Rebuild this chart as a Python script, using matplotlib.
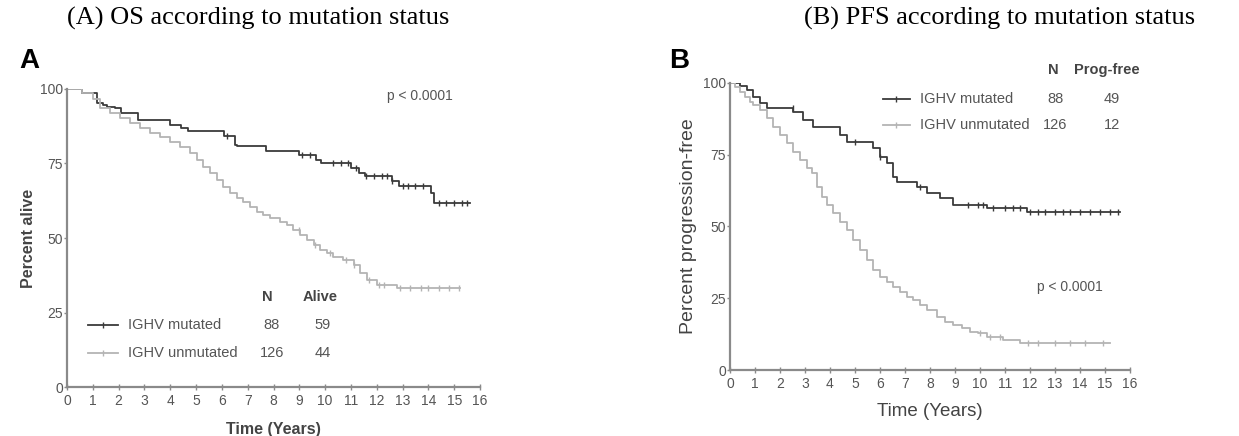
import numpy as np
import matplotlib.pyplot as plt

# Kaplan-Meier curves: (time in years, percent)
os_mut_t = [0, 0.6, 1.16, 1.4, 1.55, 1.85, 2.1, 2.75, 4.0, 4.4, 4.7, 6.1, 6.5, 6.6, 7.7, 9.0, 9.65, 9.85, 11.0, 11.3, 11.55, 12.6, 12.85, 14.1, 14.2, 15.6]
os_mut_s = [100, 98.8, 95.2, 94.6, 94.1, 93.6, 91.8, 89.6, 88.0, 86.9, 85.8, 84.1, 81.3, 80.8, 79.2, 78.0, 76.3, 75.2, 73.5, 71.8, 70.7, 69.0, 67.3, 65.1, 61.7, 61.7]
os_mut_cens = [6.2, 9.1, 9.4, 10.3, 10.6, 10.9, 11.2, 11.6, 11.9, 12.2, 12.4, 12.6, 13.0, 13.2, 13.5, 13.8, 14.4, 14.7, 15.0, 15.3, 15.5]

os_unm_t = [0, 0.6, 1.0, 1.28, 1.67, 2.05, 2.44, 2.83, 3.22, 3.6, 3.99, 4.38, 4.77, 5.03, 5.28, 5.54, 5.8, 6.06, 6.32, 6.58, 6.83, 7.09, 7.35, 7.61, 7.87, 8.26, 8.52, 8.77, 9.03, 9.29, 9.55, 9.81, 10.07, 10.32, 10.71, 11.1, 11.36, 11.62, 12.0, 12.78, 15.23]
os_unm_s = [100, 98.8, 96.5, 93.5, 91.8, 90.2, 88.5, 86.8, 85.1, 84.0, 82.3, 80.6, 78.4, 76.2, 73.9, 71.7, 69.5, 67.2, 65.0, 63.3, 62.2, 60.5, 58.8, 57.7, 56.6, 55.5, 54.4, 52.7, 51.0, 49.3, 47.7, 46.0, 44.9, 43.7, 42.6, 40.9, 38.1, 35.9, 34.2, 33.1, 33.1]
os_unm_cens = [9.0, 9.6, 10.2, 10.8, 11.1, 11.7, 12.1, 12.3, 12.9, 13.3, 13.7, 14.0, 14.4, 14.8, 15.2]

pfs_mut_t = [0, 0.4, 0.67, 0.93, 1.2, 1.47, 2.53, 2.93, 3.33, 4.4, 4.67, 5.73, 6.0, 6.27, 6.53, 6.67, 7.47, 7.87, 8.4, 8.93, 10.27, 11.87, 15.6]
pfs_mut_s = [100, 99.0, 97.6, 95.2, 92.9, 91.2, 90.0, 87.1, 84.8, 81.9, 79.6, 77.2, 74.3, 72.0, 67.3, 65.6, 63.9, 61.6, 59.8, 57.5, 56.4, 55.2, 55.2]
pfs_mut_cens = [2.5, 5.0, 6.0, 7.6, 9.5, 9.9, 10.1, 10.5, 11.0, 11.3, 11.6, 12.0, 12.3, 12.6, 13.0, 13.3, 13.6, 14.0, 14.4, 14.8, 15.2, 15.5]

pfs_unm_t = [0, 0.2, 0.4, 0.6, 0.8, 0.93, 1.2, 1.47, 1.73, 2.0, 2.27, 2.53, 2.8, 3.07, 3.27, 3.47, 3.67, 3.87, 4.13, 4.4, 4.67, 4.93, 5.2, 5.47, 5.73, 6.0, 6.27, 6.53, 6.8, 7.07, 7.33, 7.6, 7.87, 8.27, 8.6, 8.93, 9.27, 9.6, 9.93, 10.27, 10.93, 11.6, 15.2]
pfs_unm_s = [100, 98.7, 97.0, 95.2, 93.5, 92.3, 90.6, 87.7, 84.8, 81.9, 79.0, 76.1, 73.2, 70.3, 68.5, 63.9, 60.4, 57.5, 54.6, 51.7, 48.8, 45.3, 41.8, 38.3, 34.8, 32.5, 30.8, 29.0, 27.3, 25.5, 24.4, 22.6, 20.9, 18.6, 16.8, 15.7, 14.5, 13.4, 12.8, 11.6, 10.5, 9.3, 9.3]
pfs_unm_cens = [10.0, 10.4, 10.8, 11.9, 12.3, 13.0, 13.6, 14.2, 14.9]

groups = ["IGHV mutated", "IGHV unmutated"]
os_n = [88, 126]
os_alive = [59, 44]
pfs_n = [88, 126]
pfs_free = [49, 12]

DARK = "#3a3a3a"
LIGHT = "#b4b4b4"
AXC = "#8a8a8a"
TXT = "#555555"


def km(ax, t, s, cens, color):
    ax.step(t, s, where="post", color=color, lw=1.3)
    t = np.array(t)
    s = np.array(s)
    idx = np.searchsorted(t, cens, side="right") - 1
    ax.plot(cens, s[idx], ls="none", marker="|", ms=4, mew=1.0, color=color)


def style_axes(ax, fs):
    ax.set_xlim(0, 16)
    ax.set_ylim(0, 100)
    ax.set_xticks(range(0, 17))
    ax.set_yticks([0, 25, 50, 75, 100])
    for side in ["top", "right"]:
        ax.spines[side].set_visible(False)
    for side in ["left", "bottom"]:
        ax.spines[side].set_color(AXC)
        ax.spines[side].set_linewidth(1.6)
    ax.tick_params(axis="x", direction="inout", length=4, width=1, color=AXC,
                   labelsize=fs, labelcolor=TXT, pad=3)
    ax.tick_params(axis="y", direction="out", length=2, width=1, color=AXC,
                   labelsize=fs, labelcolor=TXT, pad=1)


W, H = 1239, 436
fig = plt.figure(figsize=(W / 100, H / 100), dpi=100)
plt.rcParams["font.family"] = ["Liberation Sans", "DejaVu Sans"]


def px_axes(x0, x1, ytop, ybot):
    return fig.add_axes([x0 / W, (H - ybot) / H, (x1 - x0) / W, (ybot - ytop) / H])


# titles
fig.text(258 / W, 1 - 18 / H, "(A) OS according to mutation status", ha="center", va="center",
         fontsize=19, family="Liberation Serif")
fig.text(1000 / W, 1 - 18 / H, "(B) PFS according to mutation status", ha="center", va="center",
         fontsize=19, family="Liberation Serif")

# ---- panel A ----
axA = px_axes(67, 480, 89, 387)
km(axA, os_mut_t, os_mut_s, os_mut_cens, DARK)
km(axA, os_unm_t, os_unm_s, os_unm_cens, LIGHT)
style_axes(axA, 10)
axA.set_ylabel("Percent alive", fontsize=11.5, fontweight="bold", color="#444444", labelpad=3)
axA.set_xlabel("Time (Years)", fontsize=11.5, fontweight="bold", color="#444444", labelpad=10)
fig.text(29 / W, 1 - 61 / H, "A", ha="center", va="center", fontsize=20, fontweight="bold")
axA.text(0.855, 0.975, "p < 0.0001", transform=axA.transAxes, ha="center", va="center",
         fontsize=10, color=TXT)
axA.text(0.484, 0.302, "N", transform=axA.transAxes, ha="center", va="center",
         fontsize=10.5, fontweight="bold", color="#444444")
axA.text(0.613, 0.302, "Alive", transform=axA.transAxes, ha="center", va="center",
         fontsize=10.5, fontweight="bold", color="#444444")
for i, (g, n, a, c) in enumerate(zip(groups, os_n, os_alive, [DARK, LIGHT])):
    yy = [0.208, 0.114][i]
    axA.plot([0.051, 0.123], [yy, yy], color=c, lw=1.3, transform=axA.transAxes)
    axA.plot([0.087], [yy], marker="|", ms=4, color=c, transform=axA.transAxes)
    axA.text(0.148, yy, g, transform=axA.transAxes, ha="left", va="center", fontsize=10.5, color=TXT)
    axA.text(0.496, yy, str(n), transform=axA.transAxes, ha="center", va="center", fontsize=10.5, color=TXT)
    axA.text(0.62, yy, str(a), transform=axA.transAxes, ha="center", va="center", fontsize=10.5, color=TXT)

# ---- panel B ----
axB = px_axes(730, 1130, 83, 370)
km(axB, pfs_mut_t, pfs_mut_s, pfs_mut_cens, DARK)
km(axB, pfs_unm_t, pfs_unm_s, pfs_unm_cens, LIGHT)
style_axes(axB, 10)
axB.set_ylabel("Percent progression-free", fontsize=14, color="#444444", labelpad=4)
axB.set_xlabel("Time (Years)", fontsize=13.5, color="#444444", labelpad=9)
fig.text(679 / W, 1 - 61 / H, "B", ha="center", va="center", fontsize=20, fontweight="bold")
axB.text(0.85, 0.289, "p < 0.0001", transform=axB.transAxes, ha="center", va="center",
         fontsize=10, color=TXT)
axB.text(0.8075, 1.045, "N", transform=axB.transAxes, ha="center", va="center",
         fontsize=10.5, fontweight="bold", color="#444444")
axB.text(0.943, 1.045, "Prog-free", transform=axB.transAxes, ha="center", va="center",
         fontsize=10.5, fontweight="bold", color="#444444", clip_on=False)
for i, (g, n, a, c) in enumerate(zip(groups, pfs_n, pfs_free, [DARK, LIGHT])):
    yy = [0.944, 0.854][i]
    axB.plot([0.383, 0.45], [yy, yy], color=c, lw=1.3, transform=axB.transAxes)
    axB.plot([0.416], [yy], marker="|", ms=4, color=c, transform=axB.transAxes)
    axB.text(0.475, yy, g, transform=axB.transAxes, ha="left", va="center", fontsize=10.5, color=TXT)
    axB.text(0.8125, yy, str(n), transform=axB.transAxes, ha="center", va="center", fontsize=10.5, color=TXT)
    axB.text(0.955, yy, str(a), transform=axB.transAxes, ha="center", va="center", fontsize=10.5, color=TXT)

fig.savefig("out.png", dpi=100)
